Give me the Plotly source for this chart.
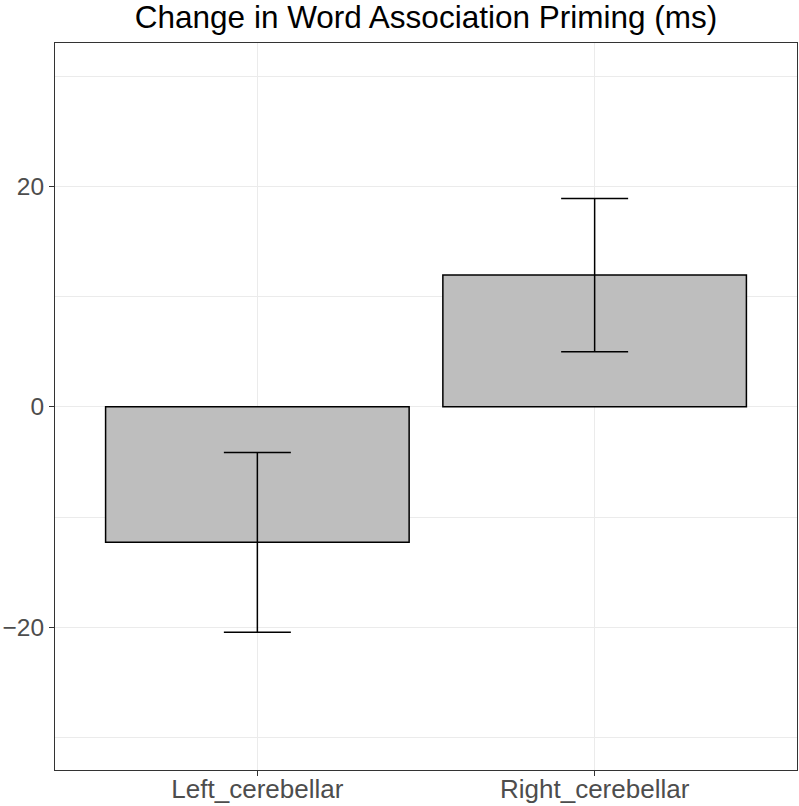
import plotly.graph_objects as go

categories = ["Left_cerebellar", "Right_cerebellar"]
means = [-12.3, 11.95]
errors = [8.15, 6.95]
y_ticks = [-20, 0, 20]
y_tick_labels = ["\u221220", "0", "20"]

FONT = "Liberation Sans, Arial, Helvetica, sans-serif"

fig = go.Figure()
fig.add_trace(go.Bar(
    x=categories,
    y=means,
    width=0.9,
    marker=dict(color="#BEBEBE", line=dict(color="black", width=1.5)),
    error_y=dict(type="data", array=errors, visible=True,
                 color="black", thickness=1.5, width=33.5),
    showlegend=False,
))

fig.update_layout(
    width=799, height=806,
    margin=dict(l=55, r=2, t=43, b=36),
    paper_bgcolor="white",
    plot_bgcolor="white",
    font=dict(family=FONT, color="#4D4D4D"),
    title=dict(text="Change in Word Association Priming (ms)",
               x=0.5, xref="paper", xanchor="center",
               y=1 - 17 / 806, yref="container", yanchor="middle",
               font=dict(size=31.5, color="black", family=FONT)),
    bargap=0.1,
)

fig.update_xaxes(
    range=[-0.6, 1.6], automargin=False,
    showgrid=True, gridcolor="#EBEBEB", gridwidth=1.1,
    showline=True, mirror=True, linecolor="#333333", linewidth=1.1,
    ticks="outside", ticklen=5, tickwidth=1.1, tickcolor="#333333",
    tickfont=dict(size=26, color="#4D4D4D"),
    ticklabelstandoff=-9,
    zeroline=False,
)

fig.update_yaxes(
    range=[-32.95, 33.0], automargin=False,
    tickvals=y_ticks, ticktext=y_tick_labels,
    showgrid=True, gridcolor="#EBEBEB", gridwidth=1.1,
    minor=dict(tickvals=[-30, -10, 10, 30], showgrid=True,
               gridcolor="#EBEBEB", gridwidth=0.8, ticks=""),
    showline=True, mirror=True, linecolor="#333333", linewidth=1.1,
    ticks="outside", ticklen=5, tickwidth=1.1, tickcolor="#333333",
    tickfont=dict(size=24.5, color="#4D4D4D"),
    zeroline=False,
)

fig.write_html("out.html",
               config={"displayModeBar": False},
               post_script="document.body.style.margin='0';document.body.style.padding='0';")
